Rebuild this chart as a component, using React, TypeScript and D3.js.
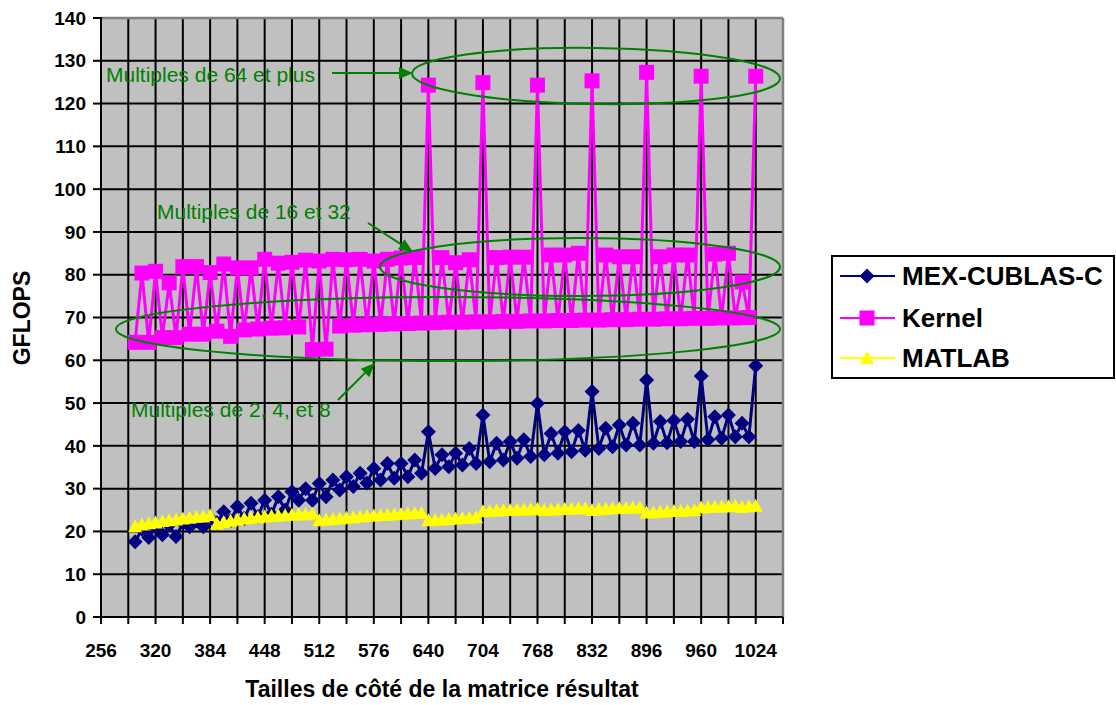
import React from "react";
import * as d3 from "d3";

const sizes = [296,304,312,320,328,336,344,352,360,368,376,384,392,400,408,416,424,432,440,448,456,464,472,480,488,496,504,512,520,528,536,544,552,560,568,576,584,592,600,608,616,624,632,640,648,656,664,672,680,688,696,704,712,720,728,736,744,752,760,768,776,784,792,800,808,816,824,832,840,848,856,864,872,880,888,896,904,912,920,928,936,944,952,960,968,976,984,992,1000,1008,1016,1024];

const mexCublas = [17.6,20.5,18.6,21.0,19.2,21.5,18.8,22.0,21.1,22.5,21.1,23.0,22.0,24.6,22.5,25.8,23.0,26.6,23.5,27.3,24.0,28.1,25.0,29.3,27.3,30.0,27.3,31.2,28.1,32.0,29.7,32.8,30.5,33.6,31.3,34.7,32.0,35.9,32.4,35.9,32.8,36.7,33.6,43.3,34.7,37.9,35.1,38.3,35.5,39.4,35.9,47.2,36.3,40.6,36.7,41.0,37.1,41.4,37.5,49.9,37.9,42.9,38.3,43.3,38.6,43.6,39.0,52.7,39.4,44.1,39.8,44.9,40.2,45.3,40.2,55.4,40.6,45.7,40.7,45.9,41.0,46.2,41.0,56.3,41.4,46.8,41.8,47.2,42.1,45.3,42.1,58.7];

const kernel = [64.2,80.4,64.2,80.8,65.3,78.1,65.3,81.9,66.1,81.9,66.1,80.5,66.8,82.5,65.6,81.6,67.1,81.6,67.3,83.6,67.5,82.7,67.6,82.9,67.8,83.4,62.5,83.2,62.6,83.6,68.0,83.5,68.2,83.6,68.3,83.2,68.4,83.6,68.5,83.9,68.6,84.0,68.7,124.3,68.8,84.0,68.9,82.8,68.9,83.5,69.0,124.9,69.0,84.0,69.1,84.1,69.1,84.1,69.2,124.3,69.2,84.6,69.3,84.6,69.3,85.0,69.4,125.3,69.4,84.6,69.5,84.2,69.5,84.2,69.6,127.3,69.6,84.2,69.7,84.6,69.7,84.6,69.8,126.4,69.8,84.8,69.9,85.0,69.9,78.3,70.0,126.4];

const matlab = [21.2,21.6,21.9,22.1,22.4,22.6,22.8,23.0,23.2,23.4,23.5,23.8,21.8,22.2,22.5,22.8,23.0,23.2,23.3,23.5,23.6,23.7,23.8,23.9,24.0,24.0,24.1,22.6,22.8,22.9,23.0,23.2,23.3,23.5,23.6,23.7,23.8,23.9,24.0,24.1,24.2,24.3,24.3,22.6,22.7,22.8,22.9,23.0,23.1,23.2,23.3,24.7,24.8,24.9,25.0,25.0,25.1,25.1,25.2,25.3,25.0,25.1,25.2,25.3,25.3,25.4,25.4,25.0,25.2,25.3,25.4,25.5,25.5,25.6,25.6,24.4,24.5,24.6,24.7,24.8,24.8,24.9,25.0,25.6,25.7,25.8,25.8,25.9,26.0,25.7,25.9,26.0];

const seriesNames = ["MEX-CUBLAS-C", "Kernel", "MATLAB"];
const yTicks = [0,10,20,30,40,50,60,70,80,90,100,110,120,130,140];
const xTickLabels = [256,320,384,448,512,576,640,704,768,832,896,960,1024];
const xGridStep = 32;
const xDomain = [256, 1056];
const yDomain = [0, 140];

const annotations = [
  { text: "Multiples de 64 et plus" },
  { text: "Multiples de 16 et 32" },
  { text: "Multiples de 2, 4, et 8" },
];

const FONT = "'Liberation Sans', Arial, Helvetica, sans-serif";
const GREEN = "#008000";
const COLORS = ["#000080", "#FF00FF", "#FFFF00"];

function Marker({ kind, x, y, color }: { kind: number; x: number; y: number; color: string }) {
  if (kind === 0) {
    const r = 7.5;
    return <path d={`M${x},${y - r}L${x + r},${y}L${x},${y + r}L${x - r},${y}Z`} fill={color} />;
  }
  if (kind === 1) {
    const s = 7.5;
    return <rect x={x - s} y={y - s} width={2 * s} height={2 * s} fill={color} />;
  }
  const w = 7, h = 7;
  return <path d={`M${x},${y - h}L${x + w},${y + h * 0.85}L${x - w},${y + h * 0.85}Z`} fill={color} />;
}

export default function App() {
  const left = 101, right = 783, top = 18, bottom = 617;
  const x = d3.scaleLinear().domain(xDomain).range([left, right]);
  const y = d3.scaleLinear().domain(yDomain).range([bottom, top]);
  const gridX = d3.range(xDomain[0] + xGridStep, xDomain[1], xGridStep);
  const tickX = d3.range(xDomain[0], xDomain[1] + 1, xGridStep);
  const allSeries = [mexCublas, kernel, matlab];
  const line = d3.line<number>().x((_, i) => x(sizes[i])).y((d) => y(d));

  const arrow = (x1: number, y1: number, x2: number, y2: number, key: string) => {
    const ang = Math.atan2(y2 - y1, x2 - x1);
    const L = 14, W = 6;
    const bx = x2 - L * Math.cos(ang), by = y2 - L * Math.sin(ang);
    const px = -Math.sin(ang) * W, py = Math.cos(ang) * W;
    return (
      <g key={key}>
        <line x1={x1} y1={y1} x2={bx} y2={by} stroke={GREEN} strokeWidth={2} />
        <path d={`M${x2},${y2}L${bx + px},${by + py}L${bx - px},${by - py}Z`} fill={GREEN} />
      </g>
    );
  };

  const legendRows = [276, 318, 358];

  return (
    <svg width={1116} height={705} style={{ position: "absolute", left: 0, top: 0, background: "#fff" }} fontFamily={FONT}>
      <rect x={left} y={top} width={right - left} height={bottom - top} fill="#C0C0C0" />
      {yTicks.filter((t) => t > 0).map((t) => (
        <line key={"gy" + t} x1={left} x2={right} y1={y(t)} y2={y(t)} stroke="#000" strokeWidth={2} />
      ))}
      {gridX.map((v) => (
        <line key={"gx" + v} x1={x(v)} x2={x(v)} y1={top} y2={bottom} stroke="#000" strokeWidth={2} />
      ))}
      <line x1={left} x2={right} y1={top} y2={top} stroke="#808080" strokeWidth={2.5} />
      <line x1={right} x2={right} y1={top} y2={bottom} stroke="#808080" strokeWidth={2.5} />
      <line x1={left} x2={left} y1={top - 1} y2={bottom} stroke="#000" strokeWidth={2} />
      <line x1={left - 1} x2={right} y1={bottom} y2={bottom} stroke="#000" strokeWidth={2} />
      {yTicks.map((t) => (
        <g key={"ty" + t}>
          <line x1={left - 8} x2={left} y1={y(t)} y2={y(t)} stroke="#000" strokeWidth={2} />
          <text x={86} y={y(t)} dy="0.35em" textAnchor="end" fontWeight="bold" fontSize={19}>{t}</text>
        </g>
      ))}
      {tickX.map((v) => (
        <line key={"tx" + v} x1={x(v)} x2={x(v)} y1={bottom} y2={bottom + 7} stroke="#000" strokeWidth={2} />
      ))}
      {xTickLabels.map((v) => (
        <text key={"lx" + v} x={x(v)} y={657} textAnchor="middle" fontWeight="bold" fontSize={19}>{v}</text>
      ))}
      <text x={(left + right) / 2} y={697} textAnchor="middle" fontWeight="bold" fontSize={23}>Tailles de côté de la matrice résultat</text>
      <text transform={`translate(30,318) rotate(-90)`} textAnchor="middle" fontWeight="bold" fontSize={23}>GFLOPS</text>

      {allSeries.map((s, k) => (
        <g key={"s" + k}>
          <path d={line(s) || ""} fill="none" stroke={COLORS[k]} strokeWidth={3} strokeLinejoin="round" />
          {s.map((v, i) => (
            <Marker key={i} kind={k} x={x(sizes[i])} y={y(v)} color={COLORS[k]} />
          ))}
        </g>
      ))}

      <g fill="none" stroke={GREEN} strokeWidth={2}>
        <ellipse cx={596} cy={76} rx={184} ry={28} transform="rotate(0.8 596 76)" />
        <ellipse cx={580} cy={267} rx={200} ry={29} />
        <ellipse cx={448} cy={329} rx={332} ry={32} />
      </g>
      <text x={106} y={82} fill={GREEN} fontSize={21}>{annotations[0].text}</text>
      <text x={157} y={219} fill={GREEN} fontSize={21}>{annotations[1].text}</text>
      <text x={131} y={417} fill={GREEN} fontSize={21}>{annotations[2].text}</text>
      {arrow(332, 73, 413, 73, "a1")}
      {arrow(368, 223, 413, 252, "a2")}
      {arrow(338, 400, 375, 363, "a3")}

      <rect x={832} y={256} width={282} height={122} fill="#fff" stroke="#000" strokeWidth={2} />
      {seriesNames.map((n, k) => (
        <g key={"lg" + k}>
          <line x1={840} x2={895} y1={legendRows[k]} y2={legendRows[k]} stroke={COLORS[k]} strokeWidth={2} />
          <Marker kind={k} x={867} y={legendRows[k]} color={COLORS[k]} />
          <text x={902} y={legendRows[k]} dy="0.36em" fontWeight="bold" fontSize={26}>{n}</text>
        </g>
      ))}
    </svg>
  );
}
